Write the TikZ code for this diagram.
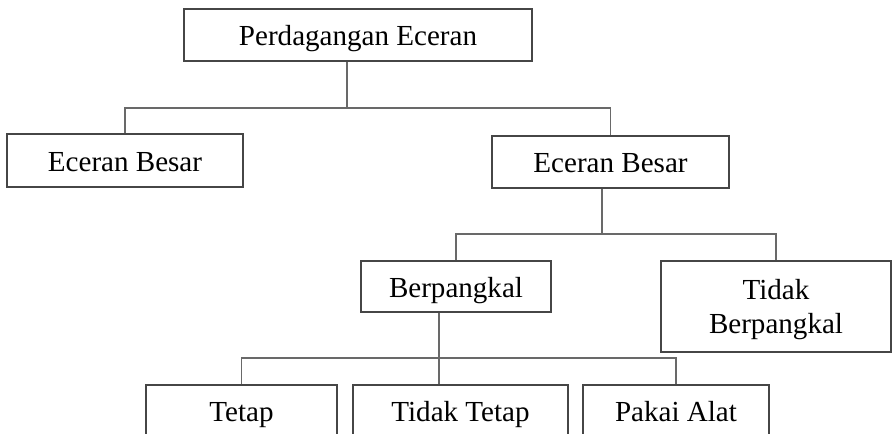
\documentclass[tikz,border=0pt]{standalone}
\usepackage{fontspec}
\setmainfont{Liberation Serif}
\usepackage{tikz}
\usetikzlibrary{calc,positioning}
\definecolor{OrgEdge}{RGB}{70,70,70}
\definecolor{OrgLink}{RGB}{105,105,105}

\tikzset{
  orgbox/.style={draw=OrgEdge,line width=0.9pt,fill=white,inner sep=0pt,align=center,
    text height=20.4pt,text depth=4pt,font=\fontsize{21.8}{24.8}\selectfont},
  orglink/.style={draw=OrgLink,line width=0.9pt}
}

\begin{document}
\begin{tikzpicture}[x=0.75pt,y=-0.75pt]
  \useasboundingbox (0,0) rectangle (895,434);
  \clip (0,0) rectangle (895,434);
  \node[orgbox,minimum width=261pt,minimum height=39pt] (root) at (358,35) {Perdagangan Eceran};
  \node[orgbox,minimum width=177pt,minimum height=39.75pt] (besarL) at (125,160.5) {Eceran Besar};
  \node[orgbox,minimum width=177.75pt,minimum height=39pt] (besarR) at (610.5,162) {Eceran Besar};
  \node[orgbox,minimum width=142.5pt,minimum height=38.25pt] (pangkal) at (456,286.5) {Berpangkal};
  \node[orgbox,text height=43.8pt,minimum width=172.5pt,minimum height=68.25pt] (tdkpangkal) at (776,306.5) {Tidak\\Berpangkal};
  \node[orgbox,minimum width=143.25pt,minimum height=39pt] (tetap) at (241.5,411) {Tetap};
  \node[orgbox,minimum width=161.25pt,minimum height=39pt] (tdktetap) at (460.5,411) {Tidak Tetap};
  \node[orgbox,minimum width=139.5pt,minimum height=39pt] (alat) at (676,411) {Pakai Alat};
  % junctions
  \coordinate (j1) at (347,108);
  \coordinate (j2) at (602,234);
  \coordinate (j3) at (439,358);
  \draw[orglink] (root.south -| j1) -- (j1);
  \draw[orglink] (besarL.north) |- (j1) -| (besarR.north);
  \draw[orglink] (besarR.south -| j2) -- (j2);
  \draw[orglink] (pangkal.north) |- (j2) -| (tdkpangkal.north);
  \draw[orglink] (pangkal.south -| j3) -- (tdktetap.north -| j3);
  \draw[orglink] (tetap.north) |- (j3) -| (alat.north);
\end{tikzpicture}
\end{document}
